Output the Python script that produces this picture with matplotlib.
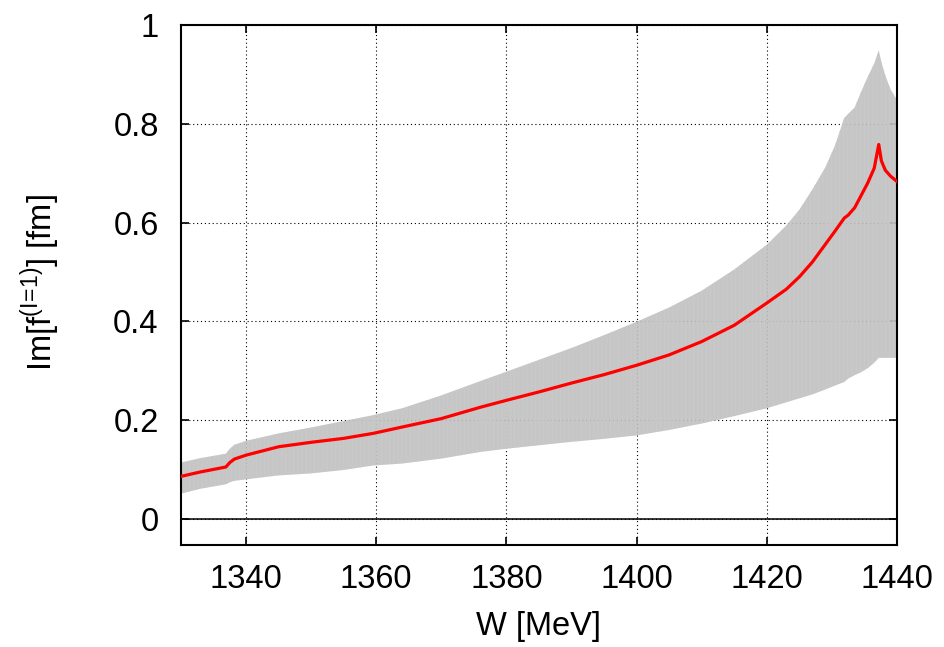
import matplotlib
matplotlib.use('Agg')
import matplotlib.pyplot as plt

# Energy grid W [MeV] and Im f(I=1) [fm]: central value and error band
w = [1330, 1333, 1336.9, 1337.5, 1338.2, 1340, 1345, 1350, 1355, 1359.5, 1364, 1370,
     1376, 1380, 1385, 1390, 1395, 1400, 1405, 1410, 1415, 1420, 1423, 1425, 1427,
     1429, 1430.5, 1431.9, 1432.5, 1433.5, 1434.5, 1435.5, 1436.5, 1437.2, 1437.6,
     1438.2, 1439, 1440]
im_f = [0.086, 0.095, 0.105, 0.114, 0.121, 0.129, 0.146, 0.155, 0.163, 0.173, 0.186, 0.203,
        0.226, 0.240, 0.257, 0.275, 0.292, 0.311, 0.332, 0.359, 0.392, 0.437, 0.465, 0.490, 0.520,
        0.556, 0.583, 0.609, 0.615, 0.630, 0.655, 0.680, 0.710, 0.758, 0.725,
        0.706, 0.694, 0.683]
band_hi = [0.114, 0.123, 0.132, 0.142, 0.150, 0.158, 0.173, 0.185, 0.198, 0.210, 0.224, 0.250,
           0.279, 0.298, 0.322, 0.346, 0.372, 0.399, 0.428, 0.462, 0.505, 0.555, 0.594, 0.626, 0.667,
           0.712, 0.757, 0.812, 0.820, 0.833, 0.865, 0.895, 0.922, 0.949, 0.925,
           0.898, 0.870, 0.848]
band_lo = [0.051, 0.061, 0.070, 0.074, 0.077, 0.080, 0.088, 0.092, 0.099, 0.108, 0.112, 0.122,
           0.1355, 0.142, 0.149, 0.156, 0.162, 0.169, 0.180, 0.193, 0.208, 0.224, 0.236, 0.244, 0.252,
           0.262, 0.270, 0.277, 0.284, 0.291, 0.297, 0.305, 0.316, 0.326, 0.326,
           0.326, 0.326, 0.326]

x_ticks = [1340, 1360, 1380, 1400, 1420, 1440]
y_ticks = [0, 0.2, 0.4, 0.6, 0.8, 1]
y_tick_labels = ['0', '0.2', '0.4', '0.6', '0.8', '1']

plt.rcParams['font.family'] = ['Liberation Sans', 'DejaVu Sans']
plt.rcParams['mathtext.fontset'] = 'custom'
plt.rcParams['mathtext.rm'] = 'Liberation Sans'
plt.rcParams['hatch.linewidth'] = 0.6

fig = plt.figure(figsize=(9.45, 6.47), dpi=100)
ax = fig.add_axes([0.1915, 0.1576, 0.7577, 0.8038])

# Error band (striped like gnuplot error bars) and central curve
ax.fill_between(w, band_lo, band_hi, facecolor='#c0c0c0', edgecolor='#cbcbcb',
                hatch='||||', alpha=0.9, linewidth=0, zorder=2)
ax.plot(w, im_f, color='red', linewidth=2.3, zorder=4)
ax.axhline(0, color='black', linewidth=1.1, zorder=3)

ax.set_xlim(1330, 1440)
ax.set_ylim(-0.053, 1.0)
ax.set_xticks(x_ticks)
ax.set_yticks(y_ticks)
ax.set_yticklabels(y_tick_labels)

ax.grid(True, color='black', linestyle=(0, (1, 2.5)), linewidth=0.8, zorder=1)
ax.set_axisbelow(True)
ax.tick_params(direction='in', top=True, right=True, length=6, width=1.2,
               labelsize=23.5)
ax.tick_params(axis='y', pad=16)
ax.tick_params(axis='x', pad=14)
for s in ax.spines.values():
    s.set_linewidth(1.5)

fig.text(539 / 945, 1 - 626 / 647, 'W [MeV]', fontsize=23.5, ha='center', va='center')
fig.text(40 / 945, 1 - 283 / 647, r'Im[f$^{\mathrm{(I\!=\!1)}}$] [fm]', fontsize=23.5,
         rotation=90, ha='center', va='center')

fig.savefig('out.png', dpi=100)
